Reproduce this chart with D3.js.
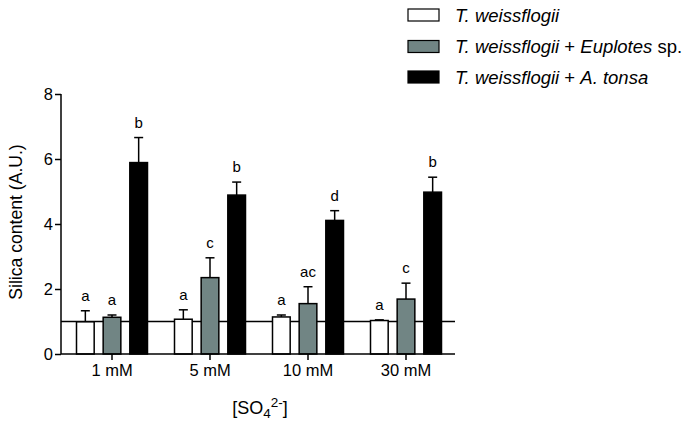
<!DOCTYPE html>
<html><head><meta charset="utf-8">
<script src="https://cdn.jsdelivr.net/npm/d3@7"></script>
<style>body{margin:0;background:#fff}svg{display:block;font-family:Arial,"Liberation Sans",sans-serif}</style>
</head><body><svg id="c" width="691" height="427"></svg>
<script>
const categories = ["1 mM", "5 mM", "10 mM", "30 mM"];
const seriesNames = ["T. weissflogii", "T. weissflogii + Euplotes sp.", "T. weissflogii + A. tonsa"];
const meanWhite = [0.99, 1.07, 1.14, 1.03];
const errWhite  = [0.34, 0.29, 0.06, 0.02];
const meanGray  = [1.13, 2.35, 1.55, 1.69];
const errGray   = [0.07, 0.61, 0.52, 0.49];
const meanBlack = [5.89, 4.89, 4.11, 4.98];
const errBlack  = [0.77, 0.40, 0.30, 0.46];
const lettersWhite = ["a", "a", "a", "a"];
const lettersGray  = ["a", "c", "ac", "c"];
const lettersBlack = ["b", "b", "d", "b"];
const yTicks = [0, 2, 4, 6, 8];
const refValue = 1;

const fills = ["#ffffff", "#718584", "#000000"];
const FONT = "Arial, 'Liberation Sans', sans-serif";
const svg = d3.select("#c");
const y = d3.scaleLinear().domain([0, 8]).range([354, 94]);
const x0 = d3.scaleBand().domain(categories).range([63, 455]).padding(0);
const x1 = d3.scaleBand().domain(d3.range(3)).range([-35.5, 35.5]).paddingInner(0.337).paddingOuter(0);

const means = [meanWhite, meanGray, meanBlack];
const errs = [errWhite, errGray, errBlack];
const letters = [lettersWhite, lettersGray, lettersBlack];
const data = [];
categories.forEach((c, i) => {
  for (let s = 0; s < 3; s++) data.push({c, s, v: means[s][i], e: errs[s][i], l: letters[s][i]});
});

const cx = d => x0(d.c) + x0.bandwidth() / 2 + x1(d.s);

// reference line (beneath bars)
svg.append("line").attr("x1", 61).attr("x2", 455).attr("y1", y(refValue)).attr("y2", y(refValue))
  .attr("stroke", "#000").attr("stroke-width", 1.3);

// error bars
const eg = svg.append("g").attr("stroke", "#000").attr("stroke-width", 1.5);
data.forEach(d => {
  const xm = cx(d) + x1.bandwidth() / 2;
  eg.append("line").attr("x1", xm).attr("x2", xm).attr("y1", y(d.v)).attr("y2", y(d.v + d.e));
  eg.append("line").attr("x1", xm - 4.5).attr("x2", xm + 4.5).attr("y1", y(d.v + d.e)).attr("y2", y(d.v + d.e));
});

// bars
svg.append("g").selectAll("rect").data(data).join("rect")
  .attr("x", d => cx(d)).attr("width", x1.bandwidth())
  .attr("y", d => y(d.v)).attr("height", d => y(0) - y(d.v))
  .attr("fill", d => fills[d.s]).attr("stroke", "#000").attr("stroke-width", 1.5);

// letters
svg.append("g").selectAll("text").data(data).join("text")
  .attr("x", d => cx(d) + x1.bandwidth() / 2)
  .attr("y", d => y(d.v + d.e) - 10)
  .attr("text-anchor", "middle").attr("font-size", 15).attr("fill", "#000")
  .text(d => d.l);

// y axis
const ya = svg.append("g").attr("transform", "translate(61,0)")
  .call(d3.axisLeft(y).tickValues(yTicks).tickSize(6).tickPadding(2).tickFormat(d3.format("d")));
ya.select(".domain").attr("stroke-width", 1.5).attr("d", `M0,${y(8)}V${y(0)}`);
ya.selectAll(".tick line").attr("stroke-width", 1.5);
ya.selectAll(".tick text").attr("font-size", 16.5).attr("font-family", FONT).attr("fill", "#000");

// x axis
const xa = svg.append("g").attr("transform", `translate(0,${y(0)})`)
  .call(d3.axisBottom(x0).tickSize(6).tickPadding(4));
xa.select(".domain").attr("stroke-width", 1.5).attr("d", "M61,0H455");
xa.selectAll(".tick line").attr("stroke-width", 1.5);
xa.selectAll(".tick text").attr("font-size", 16.5).attr("font-family", FONT).attr("fill", "#000");

// axis titles
svg.append("text").attr("transform", "translate(22,222) rotate(-90)")
  .attr("text-anchor", "middle").attr("font-size", 17.6).text("Silica content (A.U.)");
const xt = svg.append("text").attr("x", 260).attr("y", 414).attr("text-anchor", "middle").attr("font-size", 18);
xt.append("tspan").text("[SO");
xt.append("tspan").attr("dy", 4).attr("font-size", 13.5).text("4");
xt.append("tspan").attr("dy", -11).attr("font-size", 13.5).text("2-");
xt.append("tspan").attr("dy", 7).text("]");

// legend
const leg = svg.append("g");
const legY = [15, 46.5, 77];
const legendParts = [
  [["T. weissflogii", true]],
  [["T. weissflogii", true], [" + ", false], ["Euplotes", true], [" sp.", false]],
  [["T. weissflogii", true], [" + ", false], ["A. tonsa", true]]
];
seriesNames.forEach((n, i) => {
  leg.append("rect").attr("x", 408).attr("y", legY[i] - 6).attr("width", 31).attr("height", 12)
    .attr("fill", fills[i]).attr("stroke", "#000").attr("stroke-width", 1.2);
  const t = leg.append("text").attr("x", 455).attr("y", legY[i] + 6.5).attr("font-size", 18.5);
  legendParts[i].forEach(p => t.append("tspan").attr("font-style", p[1] ? "italic" : "normal").text(p[0]));
});
</script></body></html>
